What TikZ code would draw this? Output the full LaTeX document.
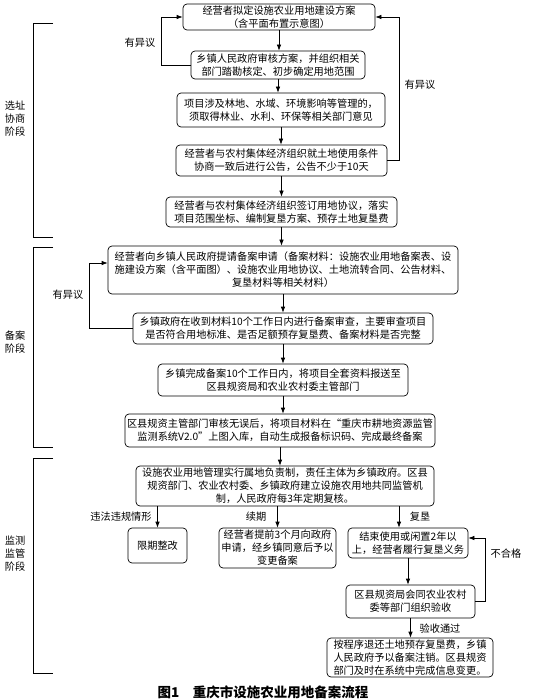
\documentclass[tikz,border=0pt]{standalone}
\usepackage{fontspec}
\newfontfamily\cjk{Noto Sans CJK SC}
\usetikzlibrary{arrows.meta,positioning,calc}

\tikzset{
  stepbox/.style={draw, rounded corners=4pt, align=center, inner sep=1pt, line width=0.7pt},
  arr/.style={line width=0.7pt, -{Latex[length=6pt,width=4.5pt]}},
  lbl/.style={align=center, inner sep=0pt},
}

\begin{document}
\begin{tikzpicture}[x=1pt, y=-1pt, font=\cjk\fontsize{10.2}{13}\selectfont]
    \useasboundingbox (0,0) rectangle (532,700);

    % Boxes
    \node[stepbox, minimum width=192, minimum height=26] (b1) at (279,17)
        {经营者拟定设施农业用地建设方案\\（含平面布置示意图）};
    \node[stepbox, minimum width=174, minimum height=28] (b2) at (278,65)
        {乡镇人民政府审核方案，并组织相关\\部门踏勘核定、初步确定用地范围};
    \node[stepbox, minimum width=208, minimum height=34] (b3) at (281,110)
        {项目涉及林地、水域、环境影响等管理的，\\须取得林业、水利、环保等相关部门意见};
    \node[stepbox, minimum width=211, minimum height=31] (b4) at (281.5,160.5)
        {经营者与农村集体经济组织就土地使用条件\\协商一致后进行公告，公告不少于10天};
    \node[stepbox, minimum width=231, minimum height=30] (b5) at (281.5,212)
        {经营者与农村集体经济组织签订用地协议，落实\\项目范围坐标、编制复垦方案、预存土地复垦费};
    \node[stepbox, minimum width=350, minimum height=48] (b6) at (283,270)
        {经营者向乡镇人民政府提请备案申请（备案材料：设施农业用地备案表、设\\施建设方案（含平面图）、设施农业用地协议、土地流转合同、公告材料、\\复垦材料等相关材料）};
    \node[stepbox, minimum width=300, minimum height=31] (b7) at (283,328.5)
        {乡镇政府在收到材料10个工作日内进行备案审查，主要审查项目\\是否符合用地标准、是否足额预存复垦费、备案材料是否完整};
    \node[stepbox, minimum width=250, minimum height=32] (b8) at (283,380)
        {乡镇完成备案10个工作日内，将项目全套资料报送至\\区县规资局和农业农村委主管部门};
    \node[stepbox, minimum width=310, minimum height=33] (b9) at (280,430.5)
        {区县规资主管部门审核无误后，将项目材料在“重庆市耕地资源监管\\监测系统V2.0”上图入库，自动生成报备标识码、完成最终备案};
    \node[stepbox, minimum width=298, minimum height=40] (b10) at (285,486)
        {设施农业用地管理实行属地负责制，责任主体为乡镇政府。区县\\规资部门、农业农村委、乡镇政府建立设施农用地共同监管机\\制，人民政府每3年定期复核。};
    \node[stepbox, minimum width=59, minimum height=35] (b11) at (157.5,545.5) {限期整改};
    \node[stepbox, minimum width=117, minimum height=40] (b12) at (277.5,548)
        {经营者提前3个月向政府\\申请，经乡镇同意后予以\\变更备案};
    \node[stepbox, minimum width=120, minimum height=30] (b13) at (408,543)
        {结束使用或闲置2年以\\上，经营者履行复垦义务};
    \node[stepbox, minimum width=129, minimum height=33] (b14) at (410.5,601.5)
        {区县规资局会同农业农村\\委等部门组织验收};
    \node[stepbox, minimum width=166, minimum height=39] (b15) at (410,657.5)
        {按程序退还土地预存复垦费，乡镇\\人民政府予以备案注销。区县规资\\部门及时在系统中完成信息变更。};

    % Main arrows
    \foreach \a/\b in {b1/b2, b2/b3, b3/b4, b4/b5, b5/b6, b6/b7, b7/b8, b8/b9, b9/b10, b13/b14, b14/b15}
        \draw[arr] (\a.south) -- (\a.south |- \b.north);

    % Branches
    \draw[arr] (b11.north |- b10.south) -- (b11.north);
    \draw[arr] (b12.north |- b10.south) -- (b12.north);
    \draw[arr] ([xshift=-9pt]b13.north |- b10.south) -- ([xshift=-9pt]b13.north);
    \node[lbl] (l4) at (121,517) {违法违规情形};
    \node[lbl] (l5) at (256,517) {续期};
    \node[lbl] (l6) at (420,517) {复垦};
    \node[lbl] (l8) at (440,629) {验收通过};

    % Loops
    \draw[arr] (b2.west) -- ++(-29,0) |- (b1.west);
    \draw[arr] (b4.east) -- ++(12,0) |- (b1.east);
    \draw[arr] (b7.west) -- ++(-43,0) |- ([yshift=7pt]b6.west);
    \draw[arr] (b14.east) -- ++(10,0) |- ([yshift=5pt]b13.east);
    \node[lbl] (l1) at (140,43) {有异议};
    \node[lbl] (l2) at (420,85) {有异议};
    \node[lbl] (l3) at (68,295) {有异议};
    \node[lbl] (l7) at (506,554) {不合格};

    % Stages
    \draw[line width=0.7pt] (53,23) -- (33,23) -- (33,237) -- (53,237);
    \draw[line width=0.7pt] (53,247) -- (33,247) -- (33,447) -- (53,447);
    \draw[line width=0.7pt] (53,458) -- (33,458) -- (33,673) -- (53,673);
    \node[lbl] (s1) at (15,119) {选址\\协商\\阶段};
    \node[lbl] (s2) at (15,342) {备案\\阶段};
    \node[lbl] (s3) at (15,554) {监测\\监管\\阶段};

    % Caption
    \node[lbl, font=\cjk\bfseries\fontsize{13.5}{15}\selectfont] (cap) at (263,692) {图1\quad 重庆市设施农业用地备案流程};
\end{tikzpicture}
\end{document}
